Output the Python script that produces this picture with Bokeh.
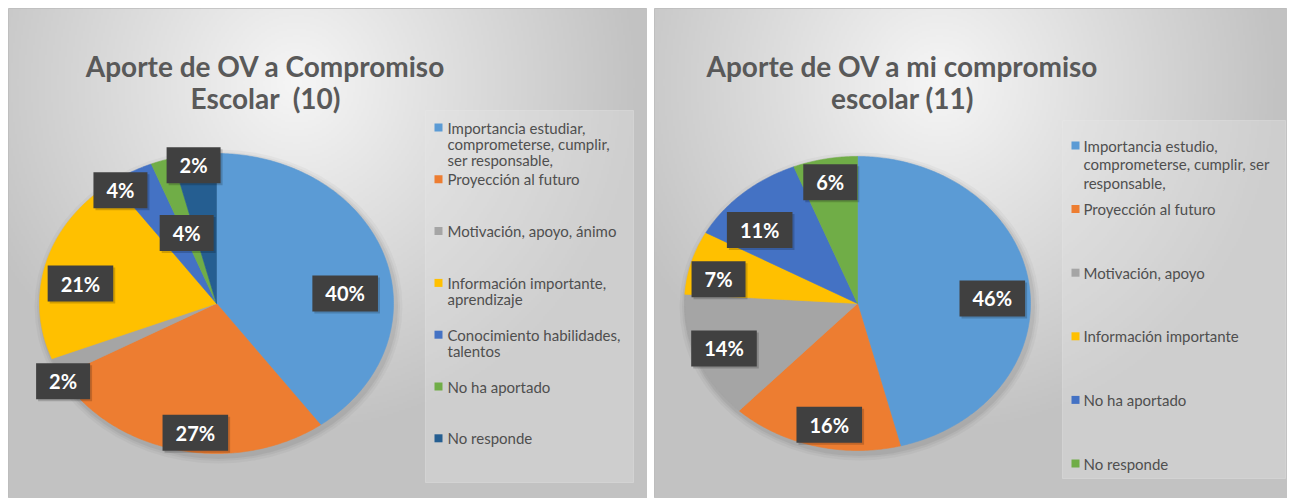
import numpy as np
from bokeh.plotting import figure
from bokeh.layouts import row
from bokeh.models import Range1d
from bokeh.core.properties import value
from bokeh.embed import file_html
from bokeh.resources import INLINE

# ---------------- data ----------------
title_left = "Aporte de OV a Compromiso\nEscolar\u00a0 (10)"
categories_left = [
    "Importancia estudiar,\ncomprometerse, cumplir,\nser responsable,",
    "Proyección al futuro",
    "Motivación, apoyo, ánimo",
    "Información importante,\naprendizaje",
    "Conocimiento habilidades,\ntalentos",
    "No ha aportado",
    "No responde",
]
values_left = [40, 27, 2, 21, 4, 2, 4]

title_right = "Aporte de OV a mi compromiso\nescolar (11)"
categories_right = [
    "Importancia estudio,\ncomprometerse, cumplir, ser\nresponsable,",
    "Proyección al futuro",
    "Motivación, apoyo",
    "Información importante",
    "No ha aportado",
    "No responde",
]
values_right = [46, 16, 14, 7, 11, 6]

# ---------------- styles / layout ----------------
colors_left = ["#5b9bd5", "#ed7d31", "#a5a5a5", "#ffc000", "#4472c4", "#70ad47", "#255e91"]
colors_right = ["#5b9bd5", "#ed7d31", "#a5a5a5", "#ffc000", "#4472c4", "#70ad47"]
# label placement: (angle offset from slice middle in degrees, radius fraction)
label_pos_left = [(12.7, 0.73), (-4.7, 0.87), (-5.7, 1.01), (-6.4, 0.78), (-6.9, 0.93), (10.0, 0.93), (-12.5, 0.50)]
label_pos_right = [(4.7, 0.78), (-3.2, 0.84), (0.0, 0.83), (-4.6, 0.82), (-7.1, 0.755), (0.0, 0.84)]

H = 490
FONT = "Lato"
TXT = "#595959"
LEG_TXT = "#4f4f4f"


def background(p, W):
    ny, nx = 245, 320
    yy, xx = np.mgrid[0:ny, 0:nx]
    fx = xx / (nx - 1)
    fy = yy / (ny - 1)
    d = np.sqrt(((fx - 0.45) / 0.75) ** 2 + ((fy - 0.85) / 1.0) ** 2)
    v = np.clip(246 - 72 * d, 194, 246).astype(np.uint8)
    img = np.empty((ny, nx), dtype=np.uint32)
    view = img.view(dtype=np.uint8).reshape((ny, nx, 4))
    view[..., 0] = v
    view[..., 1] = v
    view[..., 2] = v
    view[..., 3] = 255
    p.image_rgba(image=[img], x=0, y=0, dw=W, dh=H)


def make_panel(W, title, cats, vals, cols, lpos, cfg):
    p = figure(width=W, height=H, x_range=Range1d(0, W), y_range=Range1d(0, H),
               x_axis_type=None, y_axis_type=None, toolbar_location=None,
               output_backend="svg", min_border=0)
    p.grid.visible = False
    p.outline_line_color = "#bcbcbc"
    p.background_fill_color = "#d9d9d9"
    p.border_fill_color = "white"
    background(p, W)

    # legend box
    lb = cfg["legend_box"]
    p.quad(left=[lb[0]], right=[lb[1]], bottom=[H - lb[3]], top=[H - lb[2]],
           fill_color="#e4e4e4", fill_alpha=0.35, line_color="#e8e8e8", line_alpha=0.35)

    cx, cy, rx, ry = cfg["cx"], H - cfg["cy"], cfg["rx"], cfg["ry"]

    # soft shadow
    for k, a in [(14, 0.03), (9, 0.04), (5, 0.05)]:
        p.ellipse(x=[cx + 2], y=[cy - 3], width=[2 * rx + k], height=[2 * ry + k],
                  fill_color="black", fill_alpha=a, line_color=None)

    total = float(sum(vals))
    fr = np.array(vals, dtype=float) / total
    ends = np.cumsum(fr) * 2 * np.pi
    starts = ends - fr * 2 * np.pi
    xs, ys = [], []
    for a0, a1 in zip(starts, ends):
        th = np.linspace(a0, a1, max(4, int((a1 - a0) * 80)))
        xs.append(np.concatenate([[cx], cx + rx * np.sin(th)]).tolist())
        ys.append(np.concatenate([[cy], cy + ry * np.cos(th)]).tolist())
    p.patches(xs=xs, ys=ys, fill_color=cols, line_color=cols, line_width=0.6)

    # data labels
    lx, ly, lt = [], [], []
    for a0, a1, f, (off, r) in zip(starts, ends, fr, lpos):
        m = (a0 + a1) / 2 + np.deg2rad(off)
        lx.append(cx + r * rx * np.sin(m))
        ly.append(cy + r * ry * np.cos(m))
        lt.append(f"{round(f * 100):.0f}%")
    p.text(x=[v + 2 for v in lx], y=[v - 2 for v in ly], text=lt,
           text_font=value(FONT), text_font_style="bold", text_font_size="20px",
           text_color="#000000", text_alpha=0.0, text_align="center", text_baseline="middle",
           background_fill_color="#000000", background_fill_alpha=0.18, padding=(13, 6))
    p.text(x=lx, y=ly, text=lt, text_font=value(FONT), text_font_style="bold",
           text_font_size="20px", text_color="white", text_align="center",
           text_baseline="middle", background_fill_color="#404040", padding=(13, 6))

    # title
    tl = title.split("\n")
    p.text(x=[cfg["tx"]] * len(tl), y=[H - b for b in cfg["tbase"]], text=tl,
           text_font=value(FONT), text_font_style="bold", text_font_size="28px",
           text_color=TXT, text_align="center", text_baseline="alphabetic")

    # legend
    mx, tx, y0, step, lh = cfg["leg"]
    mxs, mys, txs, tys, tts = [], [], [], [], []
    for i, c in enumerate(cats):
        yi = y0 + i * step
        mxs.append(mx)
        mys.append(H - yi)
        for j, line in enumerate(c.split("\n")):
            txs.append(tx)
            tys.append(H - (yi + j * lh))
            tts.append(line)
    p.rect(x=mxs, y=mys, width=8, height=8, fill_color=cols, line_color=None)
    p.text(x=txs, y=tys, text=tts, text_font=value(FONT), text_font_size="15px",
           text_color=LEG_TXT, text_align="left", text_baseline="middle")
    return p


cfg_left = dict(cx=208, cy=295, rx=177, ry=150, tx=257, tbase=[57, 89],
                legend_box=(417, 625, 102, 474), leg=(430, 439, 119, 51.8, 16))
cfg_right = dict(cx=203, cy=295, rx=173, ry=147, tx=248, tbase=[57, 89],
                 legend_box=(408, 631, 112, 470), leg=(421, 429, 137, 63.6, 18.5))

p1 = make_panel(639, title_left, categories_left, values_left, colors_left, label_pos_left, cfg_left)
p2 = make_panel(633, title_right, categories_right, values_right, colors_right, label_pos_right, cfg_right)

layout = row(p1, p2, spacing=7, margin=(8, 0, 0, 8))
open("out.html", "w").write(file_html(layout, INLINE))
